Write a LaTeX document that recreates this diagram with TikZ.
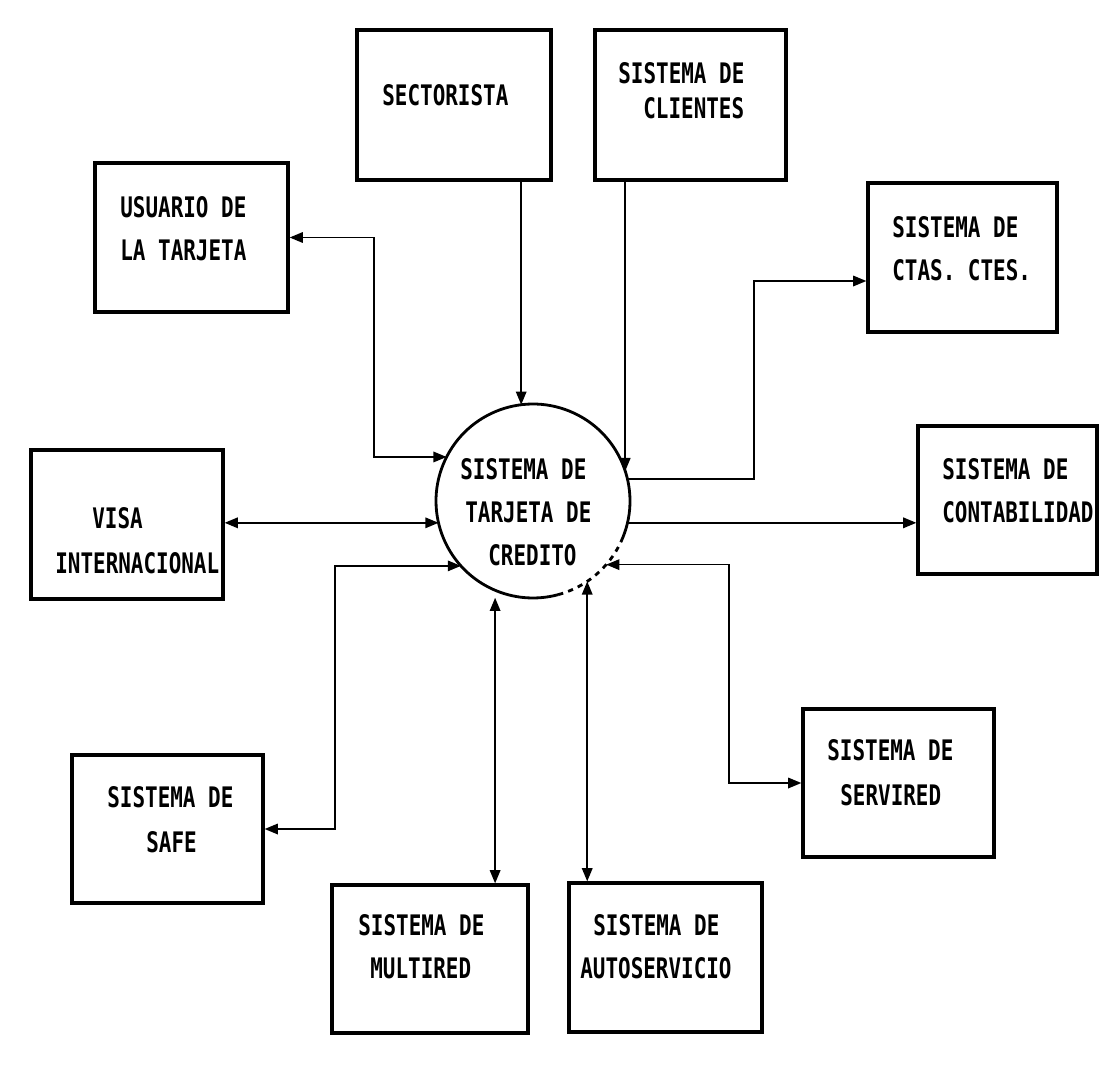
\documentclass[tikz,border=0pt]{standalone}
\usepackage{fontspec}
\newfontfamily\plotfont{DejaVu Sans Mono}[FakeStretch=0.74]
\usetikzlibrary{arrows.meta}
\begin{document}
\begin{tikzpicture}[x=0.02cm,y=-0.02cm,
  pbox/.style 2 args={draw, line width=1.9pt, minimum width=#1*0.02cm, minimum height=#2*0.02cm, inner sep=0pt},
  lbl/.style={anchor=west, inner sep=0pt, align=left, font=\plotfont\bfseries\fontsize{16.1pt}{24.4pt}\selectfont},
  tip/.tip={Triangle[length=7.5pt,width=6pt]},
  flow/.style={line width=0.9pt, -tip},
  flowtwo/.style={line width=0.9pt, tip-tip},
  rim/.style={line width=1.6pt}
]
\useasboundingbox (0,0) rectangle (1116,1072);

% boxes
\node[pbox={194}{150}] (sect) at (454,105) {};
\node[pbox={191}{150}] (cli)  at (690.5,105) {};
\node[pbox={193}{149}] (usu)  at (191.5,237.5) {};
\node[pbox={189}{149}] (ctas) at (962.5,257.5) {};
\node[pbox={179}{148}] (cont) at (1007.5,500) {};
\node[pbox={192}{149}] (visa) at (127,524.5) {};
\node[pbox={191}{148}] (safe) at (167.5,829) {};
\node[pbox={196}{148}] (mult) at (430,959) {};
\node[pbox={193}{149}] (auto) at (665.5,957.5) {};
\node[pbox={191}{148}] (serv) at (898.5,783) {};

% central process circle
\node[circle, minimum size=3.88cm, inner sep=0pt, outer sep=0pt] (c) at (533,501) {};
\draw[rim] (c.-25) arc[start angle=-25, end angle=285, radius=1.94cm];
\draw[rim, dashed] (c.-75) arc[start angle=-75, end angle=-25, radius=1.94cm];

% labels
\node[lbl] (sectt) at (382,95) {SECTORISTA};
\node[lbl] (clit)  at (618,90.5) {SISTEMA DE\\[-4.5pt]\hspace*{0.5cm}CLIENTES};
\node[lbl] (usut)  at (120,229) {USUARIO DE\\LA TARJETA};
\node[lbl] (ctast) at (892,248.5) {SISTEMA DE\\CTAS. CTES.};
\node[lbl] (contt) at (942,491) {SISTEMA DE\\CONTABILIDAD};
\node[lbl] (visat) at (55,540.5) {\hspace*{0.74cm}VISA\\[1pt]INTERNACIONAL};
\node[lbl] (safet) at (107,819.5) {SISTEMA DE\\[1pt]\hspace*{0.78cm}SAFE};
\node[lbl] (multt) at (358,946.5) {SISTEMA DE\\\hspace*{0.24cm}MULTIRED};
\node[lbl] (autot) at (580,946.5) {\hspace*{0.26cm}SISTEMA DE\\AUTOSERVICIO};
\node[lbl] (servt) at (827,772.5) {SISTEMA DE\\[1pt]\hspace*{0.26cm}SERVIRED};
\node[lbl] (ct)    at (460,512.5) {SISTEMA DE\\\hspace*{0.1cm}TARJETA DE\\\hspace*{0.56cm}CREDITO};

% connectors
\coordinate (k1) at (754,281);
\coordinate (k3) at (729,783);
\draw[flow] (c.97.8 |- sect.south) -- (c.97.8);
\draw[flow] (c.18.6 |- cli.south) -- (c.18.6);
\draw[flowtwo] (usu.east) -- (usu.east -| 374,0) |- (c.153);
\draw[flow] (c.13.9) -| (k1) -- (k1 -| ctas.west);
\draw[flow] (c.-13.2) -- (c.-13.2 -| cont.west);
\draw[flowtwo] (visa.east |- c.193.2) -- (c.193.2);
\draw[flowtwo] (safe.east) -- (safe.east -| 335,0) |- (c.222);
\draw[flowtwo, shorten <=0.15cm] (c.247) -- (c.247 |- mult.north);
\draw[flowtwo] (c.-56.9) -- (c.-56.9 |- auto.north);
\draw[flowtwo] (c.-41.3) -| (k3) -- (k3 -| serv.west);
\end{tikzpicture}
\end{document}
